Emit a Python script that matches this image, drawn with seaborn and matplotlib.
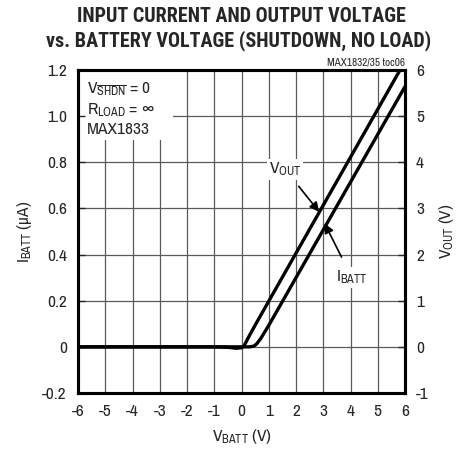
import matplotlib
matplotlib.use("Agg")
import matplotlib.pyplot as plt
import seaborn as sns
import pandas as pd
from matplotlib import font_manager
from matplotlib.patches import Rectangle

sns.set_style("white")
names = {f.name for f in font_manager.fontManager.ttflist}
body = "Archivo Narrow" if "Archivo Narrow" in names else ("Roboto Condensed" if "Roboto Condensed" in names else "Liberation Sans")
head = "Roboto Condensed" if "Roboto Condensed" in names else "Liberation Sans"
plt.rcParams['font.family'] = [body, 'DejaVu Sans']
plt.rcParams['mathtext.fontset'] = 'custom'
plt.rcParams['mathtext.rm'] = body
plt.rcParams['mathtext.it'] = body
plt.rcParams['mathtext.sf'] = body

# Data
vbatt_out = [-6, -4, -2, -1, -0.5, -0.2, 0.0, 0.1, 0.25, 0.5, 1, 2, 3, 4, 5, 6]
vout = [0, 0, 0, 0, -0.01, -0.03, -0.02, 0.03, 0.2, 0.47, 0.99, 2.03, 3.07, 4.11, 5.15, 6.19]
vbatt_i = [-6, -4, -2, -1, 0, 0.3, 0.45, 0.55, 0.7, 1, 2, 3, 4, 5, 6]
ibatt = [0, 0, 0, 0, 0, 0, 0.003, 0.012, 0.035, 0.093, 0.3, 0.507, 0.714, 0.921, 1.128]

xticks = list(range(-6, 7))
yticks_left = [-0.2, 0, 0.2, 0.4, 0.6, 0.8, 1.0, 1.2]
yticks_left_labels = ["-0.2", "0", "0.2", "0.4", "0.6", "0.8", "1.0", "1.2"]
yticks_right = list(range(-1, 7))

df_i = pd.DataFrame({"VBATT": vbatt_i, "IBATT": ibatt})
df_v = pd.DataFrame({"VBATT": vbatt_out, "VOUT": vout})

fig = plt.figure(figsize=(4.61, 4.55), dpi=100)
ax = fig.add_axes([78/461, 1-393/455, (405-78)/461, (393-70)/455])
ax2 = ax.twinx()

sns.lineplot(data=df_i, x="VBATT", y="IBATT", ax=ax, color="black", linewidth=2.4, zorder=3)
sns.lineplot(data=df_v, x="VBATT", y="VOUT", ax=ax2, color="black", linewidth=2.4)

FS = 12.5
ax.set_xlim(-6, 6)
ax.set_ylim(-0.2, 1.2)
ax2.set_ylim(-1, 6)
ax.set_xticks(xticks)
ax.set_xticklabels([str(t) for t in xticks])
ax.set_yticks(yticks_left)
ax.set_yticklabels(yticks_left_labels)
ax2.set_yticks(yticks_right)
ax2.set_yticklabels([str(t) for t in yticks_right])
ax.grid(True, color="#5a5a5a", linewidth=0.9)
ax.tick_params(length=0, labelsize=FS, pad=8)
ax2.tick_params(axis="y", labelsize=FS, pad=8, direction="in", length=5, width=1,
                left=True, right=True, labelleft=False, labelright=True)
ax2.tick_params(axis="x", direction="in", length=5, width=1, top=True, bottom=True,
                labeltop=False, labelbottom=False)
for a in (ax, ax2):
    for s in a.spines.values():
        s.set_linewidth(2.2)
        s.set_color("black")

ax.set_xlabel(r"V$_{\mathregular{BATT}}$ (V)", fontsize=FS, labelpad=6)
ax.set_ylabel(r"I$_{\mathregular{BATT}}$ ($\mu$A)", fontsize=FS, labelpad=6)
ax2.set_ylabel(r"V$_{\mathregular{OUT}}$ (V)", fontsize=FS, labelpad=6, rotation=90)

# condition box
ax.add_patch(Rectangle((0, 1 - 70/323), 95/327, 70/323, transform=ax.transAxes,
                       facecolor="white", edgecolor="none", zorder=2))
ax.text(0.027, 0.967, r"V$_{\overline{\mathregular{SHDN}}}$ = 0" + "\n" + r"R$_{\mathregular{LOAD}}$ = $\infty$" + "\n" + "MAX1833",
        transform=ax.transAxes, ha="left", va="top", fontsize=FS, linespacing=1.25, zorder=5)

ax.annotate(r"V$_{\mathregular{OUT}}$", xy=(2.85, 0.585), xytext=(1.6, 0.77),
            fontsize=FS, ha="center", va="center", zorder=4,
            arrowprops=dict(arrowstyle="-|>", color="black", lw=1.2, shrinkA=6, shrinkB=0,
                            mutation_scale=14),
            bbox=dict(boxstyle="square,pad=0.1", fc="white", ec="none"))
ax.annotate(r"I$_{\mathregular{BATT}}$", xy=(3.05, 0.535), xytext=(4.05, 0.3),
            fontsize=FS, ha="center", va="center", zorder=4,
            arrowprops=dict(arrowstyle="-|>", color="black", lw=1.2, shrinkA=8, shrinkB=0,
                            mutation_scale=14),
            bbox=dict(boxstyle="square,pad=0.1", fc="white", ec="none"))

fig.text(405/461, 1-62/455, "MAX1832/35 toc06", ha="right", va="center", fontsize=8)
fig.text(241/461, 1-16/455, "INPUT CURRENT AND OUTPUT VOLTAGE", ha="center", va="center",
         fontsize=14.5, fontweight="bold", family=[head, 'DejaVu Sans'])
fig.text(239/461, 1-41/455, "vs. BATTERY VOLTAGE (SHUTDOWN, NO LOAD)", ha="center", va="center",
         fontsize=14.5, fontweight="bold", family=[head, 'DejaVu Sans'])

fig.savefig("out.png", dpi=100)
